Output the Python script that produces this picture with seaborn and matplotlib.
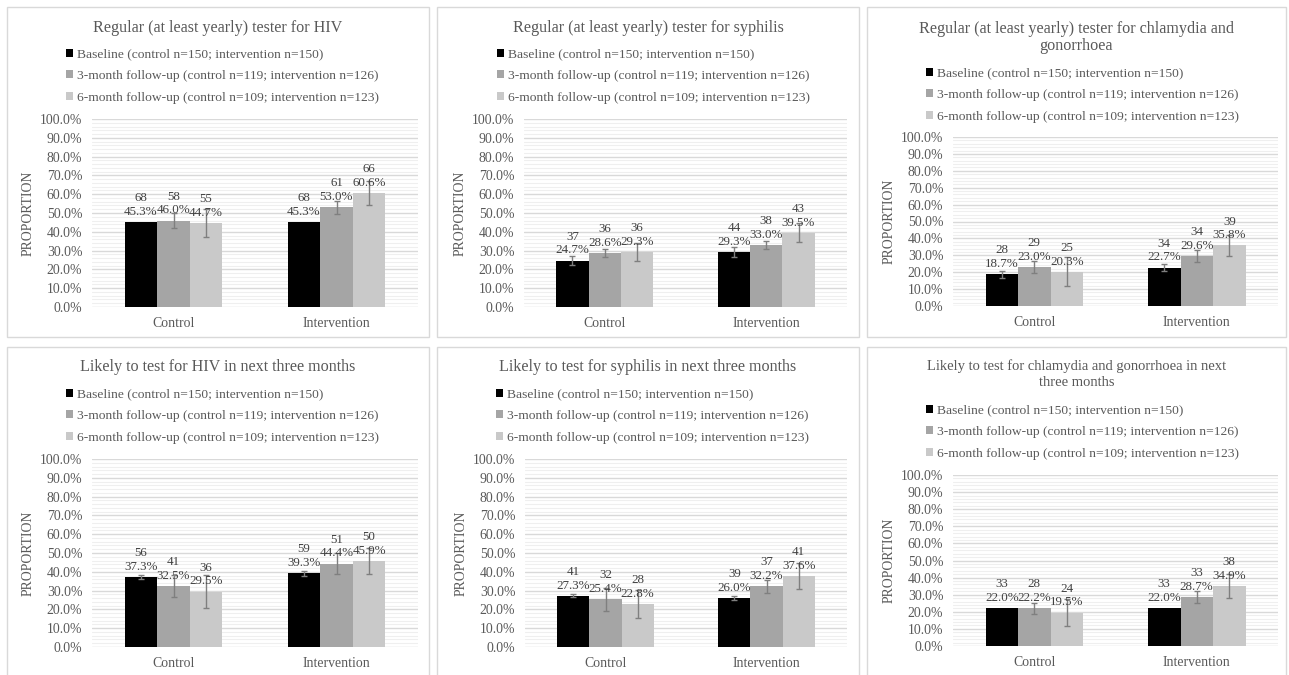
import matplotlib
matplotlib.use("Agg")
import matplotlib.pyplot as plt
import seaborn as sns
import pandas as pd
from matplotlib.ticker import MultipleLocator, FuncFormatter
from matplotlib.patches import Rectangle, Patch
from matplotlib.container import BarContainer

# ---------------- data ----------------
groups = ["Control", "Intervention"]
timepoints = [
    "Baseline (control n=150; intervention n=150)",
    "3-month follow-up (control n=119; intervention n=126)",
    "6-month follow-up (control n=109; intervention n=123)",
]
titles = [
    "Regular (at least yearly) tester for HIV",
    "Regular (at least yearly) tester for syphilis",
    "Regular (at least yearly) tester for chlamydia and\ngonorrhoea",
    "Likely to test for HIV in next three months",
    "Likely to test for syphilis in next three months",
    "Likely to test for chlamydia and gonorrhoea in next\nthree months",
]

# values: [group][timepoint]
hiv_regular_pct = [[45.3, 46.0, 44.7], [45.3, 53.0, 60.6]]
hiv_regular_n = [[68, 58, 55], [68, 61, 66]]
hiv_regular_err = [[0.0, 3.8, 7.4], [0.0, 3.3, 6.6]]

syph_regular_pct = [[24.7, 28.6, 29.3], [29.3, 33.0, 39.5]]
syph_regular_n = [[37, 36, 36], [44, 38, 43]]
syph_regular_err = [[2.5, 2.2, 4.7], [2.5, 2.3, 5.0]]

chl_regular_pct = [[18.7, 23.0, 20.3], [22.7, 29.6, 35.8]]
chl_regular_n = [[28, 29, 25], [34, 34, 39]]
chl_regular_err = [[2.3, 3.5, 8.6], [1.9, 3.5, 6.5]]

hiv_likely_pct = [[37.3, 32.5, 29.5], [39.3, 44.4, 45.9]]
hiv_likely_n = [[56, 41, 36], [59, 51, 50]]
hiv_likely_err = [[1.1, 6.0, 8.7], [1.3, 5.7, 7.0]]

syph_likely_pct = [[27.3, 25.4, 22.8], [26.0, 32.2, 37.6]]
syph_likely_n = [[41, 32, 28], [39, 37, 41]]
syph_likely_err = [[0.8, 6.0, 7.5], [0.9, 3.5, 7.0]]

chl_likely_pct = [[22.0, 22.2, 19.5], [22.0, 28.7, 34.9]]
chl_likely_n = [[33, 28, 24], [33, 33, 38]]
chl_likely_err = [[0.0, 3.2, 8.0], [0.0, 3.3, 7.0]]

panel_data = [
    (hiv_regular_pct, hiv_regular_n, hiv_regular_err),
    (syph_regular_pct, syph_regular_n, syph_regular_err),
    (chl_regular_pct, chl_regular_n, chl_regular_err),
    (hiv_likely_pct, hiv_likely_n, hiv_likely_err),
    (syph_likely_pct, syph_likely_n, syph_likely_err),
    (chl_likely_pct, chl_likely_n, chl_likely_err),
]

# ---------------- layout (pixels) ----------------
W, H = 1289, 675
colors = ["#000000", "#a5a5a5", "#c9c9c9"]
# box(x0,y0,x1,y1), axes(x0,y0,x1,y1), title y center, title size, title linespacing, legend (x,y top)
layout = [
    ((7, 7, 429, 337), (92, 119, 418, 307), 28, 11.6, 1.15, (66, 48.5)),
    ((437, 7, 859, 337), (524, 119, 847, 307), 28, 11.6, 1.15, (497, 48.5)),
    ((867, 7, 1286, 337), (953, 137, 1278, 306), 37.5, 11.6, 1.15, (926, 67.5)),
    ((7, 347, 429, 700), (92, 459, 418, 647), 367, 11.6, 1.15, (66, 388.5)),
    ((437, 347, 859, 700), (525, 459, 847, 647), 367, 11.6, 1.15, (496, 388.5)),
    ((867, 347, 1286, 700), (953, 475, 1278, 646), 374, 10.5, 1.3, (926, 404.5)),
]

sns.set_theme(style="white")
plt.rcParams['font.family'] = ['Liberation Serif', 'DejaVu Serif']

fig = plt.figure(figsize=(W / 100, H / 100), dpi=100)


def fx(x):
    return x / W


def fy(y):
    return 1 - y / H


for k, ((pct, cnt, err), (box, axp, ty, tsize, tls, leg_xy)) in enumerate(zip(panel_data, layout)):
    bx0, by0, bx1, by1 = box
    fig.add_artist(Rectangle((fx(bx0), fy(by1)), (bx1 - bx0) / W, (by1 - by0) / H,
                             transform=fig.transFigure, fill=False,
                             edgecolor="#d9d9d9", linewidth=1))
    ax0, ay0, ax1, ay1 = axp
    ax = fig.add_axes([fx(ax0), fy(ay1), (ax1 - ax0) / W, (ay1 - ay0) / H])

    rows = []
    for gi, g in enumerate(groups):
        for ti, t in enumerate(timepoints):
            rows.append({"group": g, "timepoint": t, "pct": pct[gi][ti]})
    df = pd.DataFrame(rows)

    sns.barplot(data=df, x="group", y="pct", hue="timepoint", order=groups,
                hue_order=timepoints, palette=colors, width=0.6, errorbar=None,
                saturation=1, linewidth=0, legend=False, ax=ax, zorder=2)
    ax.set_xlim(-0.5, 1.5)
    ax.set_ylim(0, 100)

    bar_conts = [c for c in ax.containers if isinstance(c, BarContainer)]
    for ti, cont in enumerate(bar_conts):
        for bar in list(cont):
            xc = bar.get_x() + bar.get_width() / 2
            h = bar.get_height()
            gi = int(round(xc))
            e = err[gi][ti]
            if e > 0:
                ax.errorbar(xc, h, yerr=e, fmt="none", ecolor="#7f7f7f",
                            elinewidth=1, capsize=2.5, capthick=1, zorder=3)
            ax.annotate(f"{cnt[gi][ti]}\n{pct[gi][ti]:.1f}%", (xc, h),
                        xytext=(0, 3), textcoords="offset points",
                        ha="center", va="bottom", fontsize=9.4,
                        color="#404040", linespacing=1.2, zorder=4)

    ax.yaxis.set_major_locator(MultipleLocator(10))
    ax.yaxis.set_minor_locator(MultipleLocator(2))
    ax.yaxis.set_major_formatter(FuncFormatter(lambda v, p: f"{v:.1f}%"))
    ax.grid(True, which="major", axis="y", color="#d9d9d9", linewidth=1, zorder=0)
    ax.grid(True, which="minor", axis="y", color="#efefef", linewidth=0.8, zorder=0)
    ax.grid(False, axis="x")
    ax.set_axisbelow(True)
    for s in ax.spines.values():
        s.set_visible(False)
    ax.tick_params(axis="both", which="both", length=0, labelsize=9.9,
                   labelcolor="#595959")
    ax.tick_params(axis="y", pad=7)
    ax.tick_params(axis="x", pad=7.5)
    ax.set_xlabel("")
    ax.set_ylabel("PROPORTION", fontsize=9.9, color="#595959", labelpad=4)

    handles = [Patch(facecolor=c, edgecolor="none") for c in colors]
    leg = ax.legend(handles=handles, labels=timepoints, loc="upper left",
                    bbox_to_anchor=(fx(leg_xy[0]), fy(leg_xy[1])),
                    bbox_transform=fig.transFigure, frameon=False,
                    borderpad=0, borderaxespad=0, handlelength=0.55,
                    handleheight=0.55, handletextpad=0.25, labelspacing=0.72,
                    fontsize=9.7)
    for t in leg.get_texts():
        t.set_color("#595959")

    fig.text(fx((bx0 + bx1) / 2), fy(ty), titles[k], ha="center", va="center",
             fontsize=tsize, color="#595959", linespacing=tls)

fig.savefig("out.png", dpi=100, facecolor="white")
